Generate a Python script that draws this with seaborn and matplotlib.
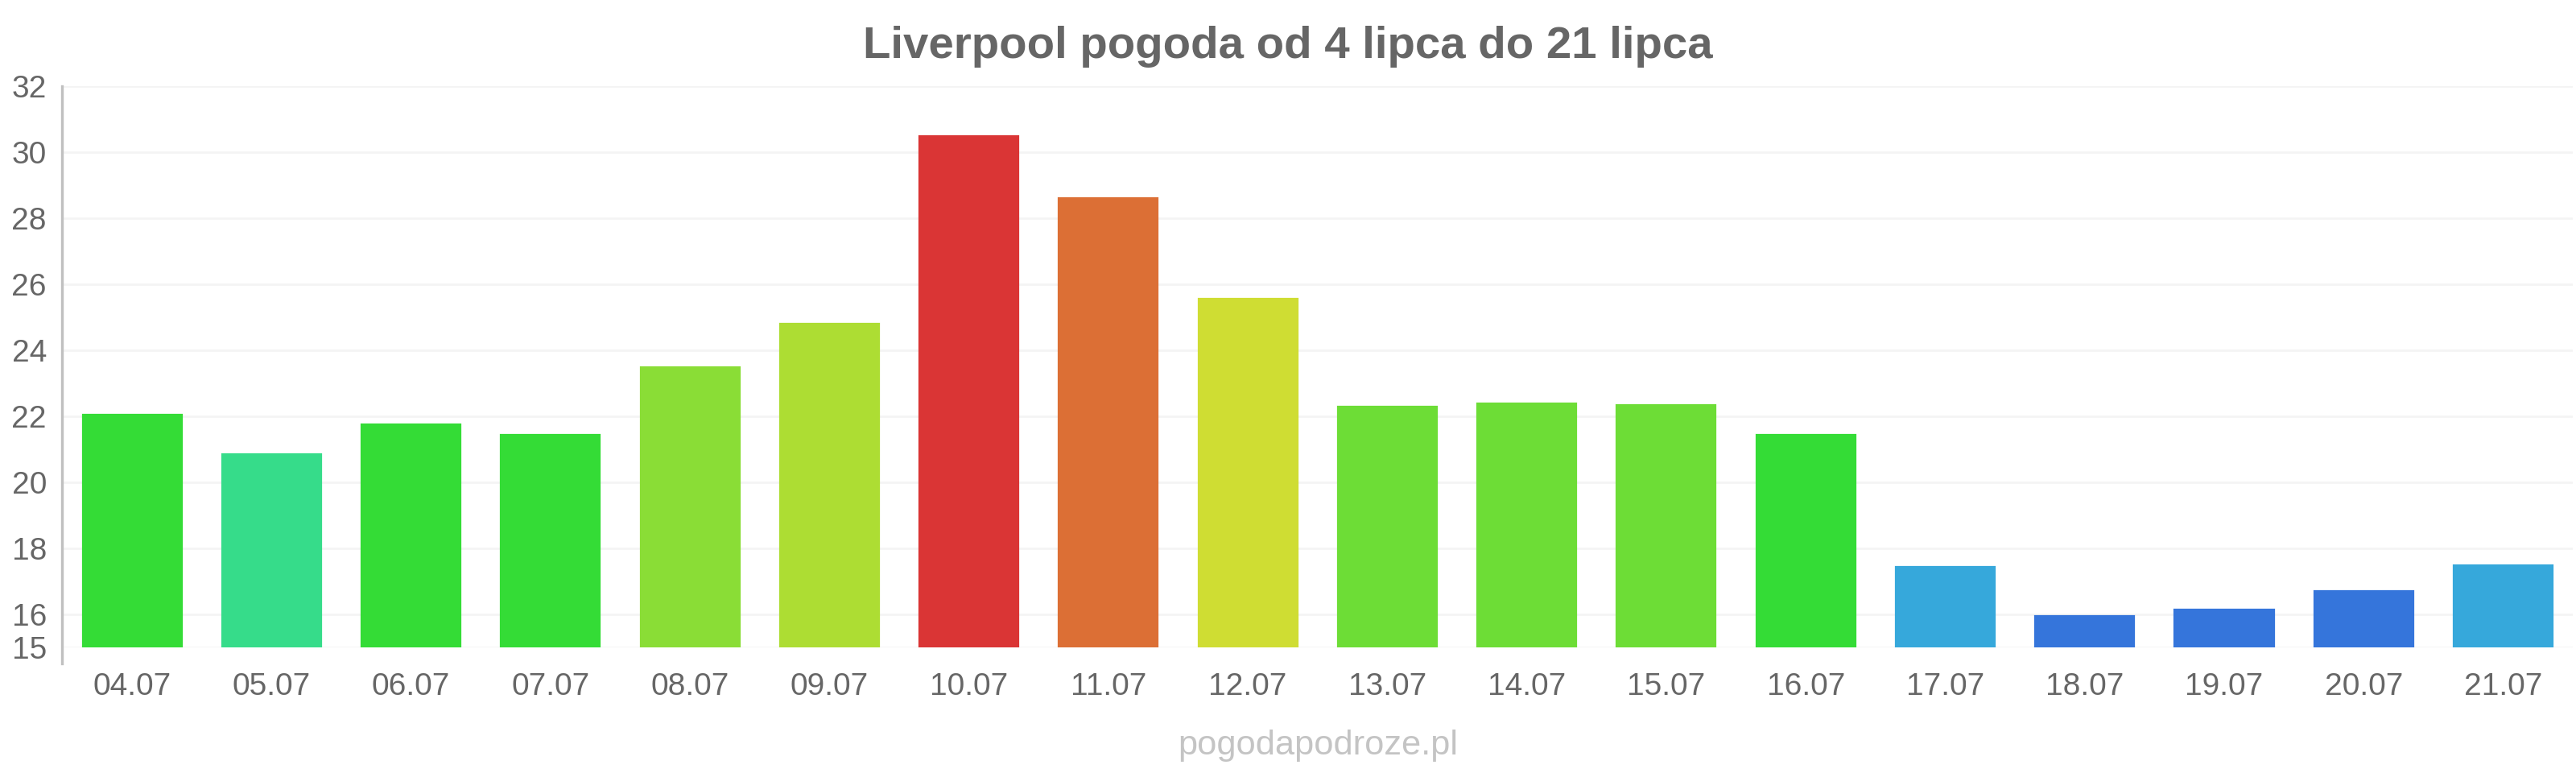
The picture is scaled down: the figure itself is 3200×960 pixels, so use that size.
import numpy as np
import pandas as pd
import seaborn as sns
import matplotlib.pyplot as plt

# daily max temperature, Liverpool 4-21 July
days = ['04.07', '05.07', '06.07', '07.07', '08.07', '09.07', '10.07', '11.07', '12.07',
        '13.07', '14.07', '15.07', '16.07', '17.07', '18.07', '19.07', '20.07', '21.07']
temps = [22.05, 20.85, 21.75, 21.45, 23.5, 24.8, 30.5, 28.6, 25.55,
         22.3, 22.4, 22.35, 21.45, 17.45, 15.95, 16.15, 16.7, 17.5]
colors = ['#34dc36', '#36dc8a', '#34dc36', '#34dc36', '#8add36', '#addd33', '#da3535', '#dc6f35', '#cfdd33',
          '#6ddd36', '#6ddd36', '#6ddd36', '#34dc36', '#36a8db', '#3575db', '#3575db', '#3575db', '#36a8db']
yticks = [15, 16, 18, 20, 22, 24, 26, 28, 30, 32]

df = pd.DataFrame({'day': days, 'temp': temps})

sns.set_theme(style='white')
plt.rcParams['font.family'] = ['Liberation Sans', 'DejaVu Sans']

fig = plt.figure(figsize=(16, 4.8), dpi=200)
ax = fig.add_axes([0.0242, 0.1625, 0.9746, 0.726])

sns.barplot(data=df, x='day', y='temp', hue='day', palette=colors, legend=False,
            width=0.71, saturation=1, ax=ax, zorder=3)
for p, c in zip(ax.patches, colors):
    p.set_edgecolor(c)
    p.set_linewidth(0.8)

ax.set_xlim(-0.5, len(days) - 0.5)
ax.set_ylim(15, 32)
ax.set_yticks(yticks)
for t in yticks:
    ax.axhline(t, color='#f4f4f4', lw=1, zorder=0)

for s in ['top', 'right', 'bottom']:
    ax.spines[s].set_visible(False)
ax.spines['left'].set_color('#c0c0c0')
ax.spines['left'].set_linewidth(1.2)
ax.spines['left'].set_bounds(14.5, 32)

ax.tick_params(axis='both', length=0, labelsize=14, colors='#666666')
ax.tick_params(axis='x', pad=11)
ax.tick_params(axis='y', pad=7)
ax.set_xlabel('')
ax.set_ylabel('')

fig.text(0.5, 0.94, 'Liverpool pogoda od 4 lipca do 21 lipca', ha='center', va='center',
         fontsize=20.3, fontweight='bold', color='#666666')
fig.text(0.5115, 0.035, 'pogodapodroze.pl', ha='center', va='center',
         fontsize=15.6, color='#c4c4c4')

fig.savefig('out.png', dpi=200, facecolor='white')
